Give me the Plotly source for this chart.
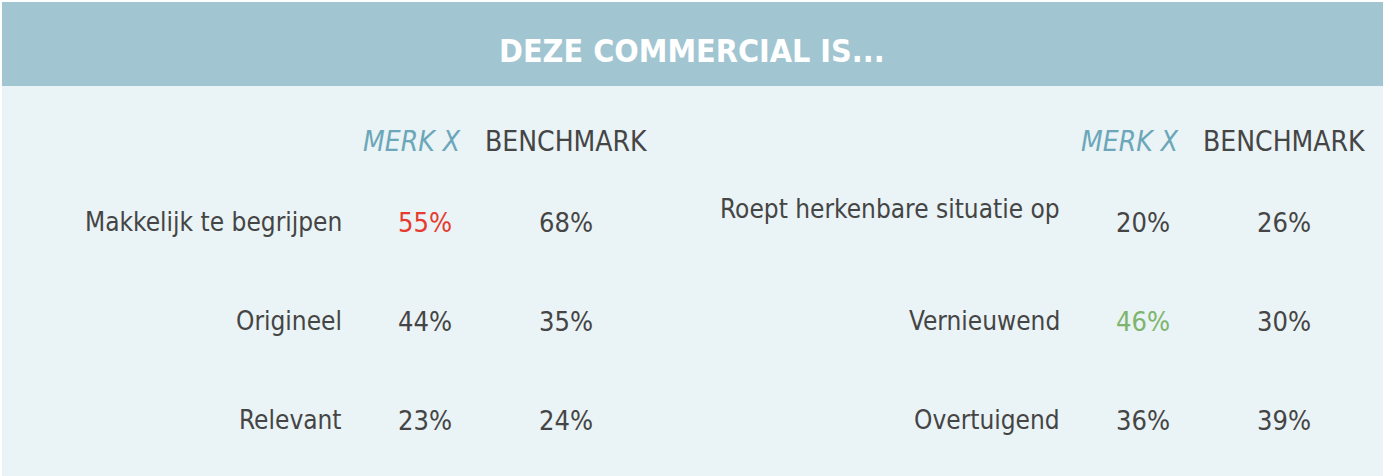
import plotly.graph_objects as go

# data
title = "DEZE COMMERCIAL IS..."
col_headers = ["MERK X", "BENCHMARK"]

labels_left = ["Makkelijk te begrijpen", "Origineel", "Relevant"]
merk_left = [55, 44, 23]
bench_left = [68, 35, 24]
sig_left = [-1, 0, 0]

labels_right = ["Roept herkenbare situatie op", "Vernieuwend", "Overtuigend"]
merk_right = [20, 46, 36]
bench_right = [26, 30, 39]
sig_right = [0, 1, 0]

W, H = 1383, 476
FONT = "DejaVu Sans Condensed, Liberation Sans Narrow, sans-serif"
DARK = "#454545"
BLUE = "#6ba7b9"
SIG_COLORS = {-1: "#e63b2e", 0: DARK, 1: "#7db56c"}

fig = go.Figure()
# invisible trace so the axes exist
fig.add_trace(go.Scatter(x=[0, W], y=[0, 2], mode="markers",
                         marker=dict(opacity=0), hoverinfo="skip", showlegend=False))

annotations = []


def panel(x0, labels, merk, bench, sig, label_dy):
    # header row (row index -0.81 ~ 142px)
    annotations.append(dict(x=x0 + 68, y=-0.81, text=col_headers[0], showarrow=False,
                            font=dict(family=FONT, size=28, color=BLUE, style="italic"),
                            xanchor="center", yanchor="middle"))
    annotations.append(dict(x=x0 + 222, y=-0.81, text=col_headers[1], showarrow=False,
                            font=dict(family=FONT, size=28, color=DARK),
                            xanchor="center", yanchor="middle"))
    for i, lab in enumerate(labels):
        annotations.append(dict(x=x0, y=i + (label_dy if i == 0 else 0), text=lab,
                                showarrow=False, xanchor="right", yanchor="middle",
                                font=dict(family=FONT, size=26, color=DARK)))
        annotations.append(dict(x=x0 + 81, y=i, text=f"{merk[i]}%", showarrow=False,
                                xanchor="center", yanchor="middle",
                                font=dict(family=FONT, size=27, color=SIG_COLORS[sig[i]])))
        annotations.append(dict(x=x0 + 222, y=i, text=f"{bench[i]}%", showarrow=False,
                                xanchor="center", yanchor="middle",
                                font=dict(family=FONT, size=27, color=DARK)))


panel(344, labels_left, merk_left, bench_left, sig_left, 0)
panel(1062, labels_right, merk_right, bench_right, sig_right, -0.13)

annotations.append(dict(x=0.5, y=(H - 51) / H, xref="paper", yref="paper", text=f"<b>{title}</b>",
                        showarrow=False, xanchor="center", yanchor="middle",
                        font=dict(family=FONT, size=32, color="white")))

# rows are 99px apart, first row centred at 222px from the top
row_px, row0 = 99, 222
fig.update_layout(
    width=W, height=H,
    margin=dict(l=0, r=0, t=0, b=0),
    paper_bgcolor="white", plot_bgcolor="rgba(0,0,0,0)",
    xaxis=dict(range=[0, W], visible=False, fixedrange=True),
    yaxis=dict(range=[(H - row0) / row_px, -row0 / row_px], visible=False, fixedrange=True),
    shapes=[
        dict(type="rect", xref="paper", yref="paper", x0=2 / W, x1=1, y0=0, y1=(H - 86) / H,
             fillcolor="#eaf3f5", line_width=0, layer="below"),
        dict(type="rect", xref="paper", yref="paper", x0=2 / W, x1=1, y0=(H - 86) / H, y1=(H - 2) / H,
             fillcolor="#a1c6d2", line_width=0, layer="below"),
    ],
    annotations=annotations,
    showlegend=False,
)

fig.write_html("out.html", config={"displayModeBar": False},
               post_script="document.body.style.margin='0';")
